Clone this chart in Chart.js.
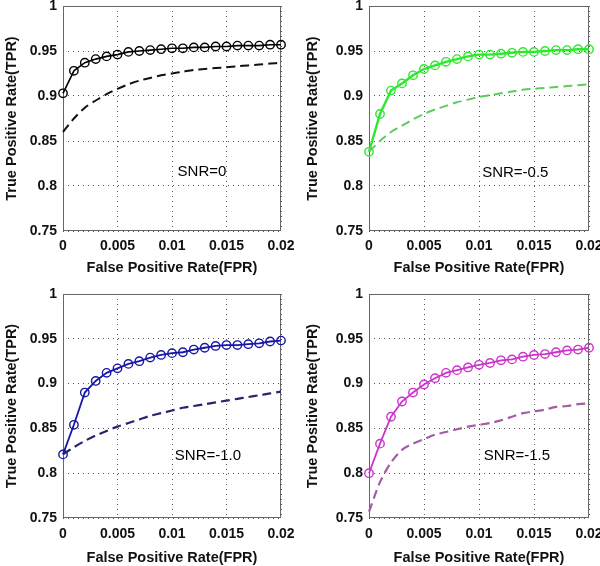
<!DOCTYPE html>
<html>
<head>
<meta charset="utf-8">
<script src="https://cdn.jsdelivr.net/npm/chart.js@4"></script>
<style>
  html, body { margin: 0; padding: 0; background: #fff; }
  #wrap { position: relative; width: 600px; height: 566px; overflow: hidden; }
  canvas { position: absolute; }
</style>
</head>
<body>
<div id="wrap">
  <canvas id="c0" width="300" height="283" style="left:0;top:0"></canvas>
  <canvas id="c1" width="300" height="283" style="left:300px;top:0"></canvas>
  <canvas id="c2" width="300" height="283" style="left:0;top:283px"></canvas>
  <canvas id="c3" width="300" height="283" style="left:300px;top:283px"></canvas>
</div>
<script>
// ---- data ----
const fprValues = [0,0.001,0.002,0.003,0.004,0.005,0.006,0.007,0.008,0.009,0.010,0.011,0.012,0.013,0.014,0.015,0.016,0.017,0.018,0.019,0.020];
const xTickLabels = ['0','0.005','0.01','0.015','0.02'];
const yTickLabels = ['0.75','0.8','0.85','0.9','0.95','1'];
const panelLabels = ['SNR=0','SNR=-0.5','SNR=-1.0','SNR=-1.5'];

const snr0Solid  = [0.903,0.928,0.937,0.941,0.944,0.946,0.949,0.950,0.951,0.952,0.953,0.953,0.954,0.954,0.955,0.955,0.956,0.956,0.956,0.957,0.957];
const snr0Dashed = [0.860,0.875,0.887,0.895,0.902,0.908,0.913,0.917,0.920,0.923,0.925,0.927,0.929,0.930,0.931,0.932,0.933,0.934,0.935,0.936,0.937];

const snr05Solid  = [0.838,0.880,0.906,0.914,0.923,0.930,0.934,0.938,0.941,0.944,0.946,0.946,0.947,0.948,0.949,0.949,0.950,0.951,0.951,0.952,0.952];
const snr05Dashed = [0.838,0.850,0.860,0.867,0.874,0.880,0.885,0.889,0.893,0.896,0.899,0.901,0.903,0.905,0.907,0.908,0.909,0.910,0.911,0.912,0.913];

const snr10Solid  = [0.821,0.854,0.890,0.903,0.912,0.917,0.922,0.925,0.929,0.932,0.934,0.935,0.938,0.940,0.942,0.943,0.943,0.944,0.945,0.947,0.948];
const snr10Dashed = [0.821,0.829,0.836,0.842,0.847,0.852,0.856,0.860,0.864,0.867,0.870,0.873,0.875,0.877,0.879,0.881,0.883,0.885,0.887,0.889,0.891];

const snr15Solid  = [0.800,0.833,0.863,0.880,0.890,0.899,0.906,0.912,0.915,0.918,0.921,0.923,0.926,0.927,0.930,0.932,0.933,0.935,0.937,0.938,0.940];
const snr15Dashed = [0.757,0.790,0.812,0.826,0.833,0.838,0.843,0.846,0.849,0.852,0.854,0.856,0.859,0.863,0.867,0.869,0.871,0.874,0.875,0.877,0.878];

// label anchor positions in data units (x, y)
const labelAnchorX = [0.01275, 0.0133, 0.0133, 0.01345];
const labelAnchorY = [0.8156, 0.8144, 0.819, 0.819];

// ---- styling / layout ----
const panels = [
  {id:'c0', solid:snr0Solid,  dashed:snr0Dashed,  cs:'#000000', cd:'#111111', lw:1.6, lwd:2.0, yW:63, xH:52, padTop:6,  padRight:19, yTitlePad:5, xTitlePad:8, xTickPad:7},
  {id:'c1', solid:snr05Solid, dashed:snr05Dashed, cs:'#2ee82e', cd:'#5ccc5c', lw:2.4, lwd:2.0, yW:69, xH:52, padTop:6,  padRight:11, yTitlePad:6, xTitlePad:8, xTickPad:7},
  {id:'c2', solid:snr10Solid, dashed:snr10Dashed, cs:'#1616a8', cd:'#25256e', lw:1.8, lwd:2.2, yW:63, xH:48, padTop:11, padRight:19, yTitlePad:5, xTitlePad:1, xTickPad:8},
  {id:'c3', solid:snr15Solid, dashed:snr15Dashed, cs:'#cc33cc', cd:'#a45ca4', lw:1.8, lwd:2.2, yW:69, xH:48, padTop:11, padRight:11, yTitlePad:6, xTitlePad:1, xTickPad:8}
];

const boxPlugin = {
  id: 'boxAndLabel',
  beforeDatasetsDraw(chart, args, opts) {
    const {ctx, chartArea: a} = chart;
    ctx.save();
    ctx.strokeStyle = '#666';
    ctx.lineWidth = 1;
    ctx.strokeRect(Math.round(a.left) + 0.5, Math.round(a.top) + 0.5,
                   Math.round(a.right - a.left) - 1, Math.round(a.bottom - a.top) - 1);
    const xs = chart.scales.x, ys = chart.scales.y;
    ctx.fillStyle = '#000';
    ctx.font = '15px "Liberation Sans", Arial, sans-serif';
    ctx.textAlign = 'center';
    ctx.textBaseline = 'middle';
    ctx.fillText(opts.text, xs.getPixelForValue(opts.lx), ys.getPixelForValue(opts.ly));
    ctx.restore();
  }
};

const tickFont = {family:'"Liberation Sans", Arial, sans-serif', size:14, weight:'bold'};
const titleFont = {family:'"Liberation Sans", Arial, sans-serif', size:14.5, weight:'bold', lineHeight: 1};

panels.forEach((p, i) => {
  const solidPts = fprValues.map((x, k) => ({x, y: p.solid[k]}));
  const dashedPts = fprValues.map((x, k) => ({x, y: p.dashed[k]}));
  new Chart(document.getElementById(p.id), {
    type: 'line',
    data: {
      datasets: [
        {data: dashedPts, borderColor: p.cd, borderWidth: p.lwd, borderDash: [9,5],
         pointRadius: 0, fill: false, tension: 0.3, clip: false},
        {data: solidPts, borderColor: p.cs, borderWidth: p.lw, pointRadius: 4.2,
         pointBorderWidth: 1.4, pointBackgroundColor: 'rgba(0,0,0,0)', pointBorderColor: p.cs,
         fill: false, tension: 0, clip: false}
      ]
    },
    options: {
      responsive: false,
      animation: false,
      events: [],
      layout: {padding: {left: 0, top: p.padTop, right: p.padRight, bottom: 0}},
      plugins: {
        legend: {display: false},
        tooltip: {enabled: false},
        boxAndLabel: {text: panelLabels[i], lx: labelAnchorX[i], ly: labelAnchorY[i]}
      },
      scales: {
        x: {
          type: 'linear', min: 0, max: 0.02,
          afterFit(s) { s.height = p.xH; s.paddingLeft = 0; s.paddingRight = 0; },
          ticks: {stepSize: 0.005, autoSkip: false, maxRotation: 0, padding: p.xTickPad,
                  color: '#111', font: tickFont,
                  callback: (v, idx) => xTickLabels[idx]},
          grid: {color: '#555', lineWidth: 1, drawTicks: false},
          border: {display: false, dash: [1,4]},
          title: {display: true, text: 'False Positive Rate(FPR)', color: '#111', font: titleFont,
                  padding: {top: 0, bottom: p.xTitlePad}}
        },
        y: {
          type: 'linear', min: 0.75, max: 1,
          afterFit(s) { s.width = p.yW; s.paddingTop = 0; s.paddingBottom = 0; },
          ticks: {stepSize: 0.05, autoSkip: false, padding: 6, color: '#111', font: tickFont,
                  callback: (v, idx) => yTickLabels[idx]},
          grid: {color: '#555', lineWidth: 1, drawTicks: false},
          border: {display: false, dash: [1,4]},
          title: {display: true, text: 'True Positive Rate(TPR)', color: '#111', font: titleFont,
                  padding: {top: p.yTitlePad, bottom: 0}}
        }
      }
    },
    plugins: [boxPlugin]
  });
});
</script>
</body>
</html>
